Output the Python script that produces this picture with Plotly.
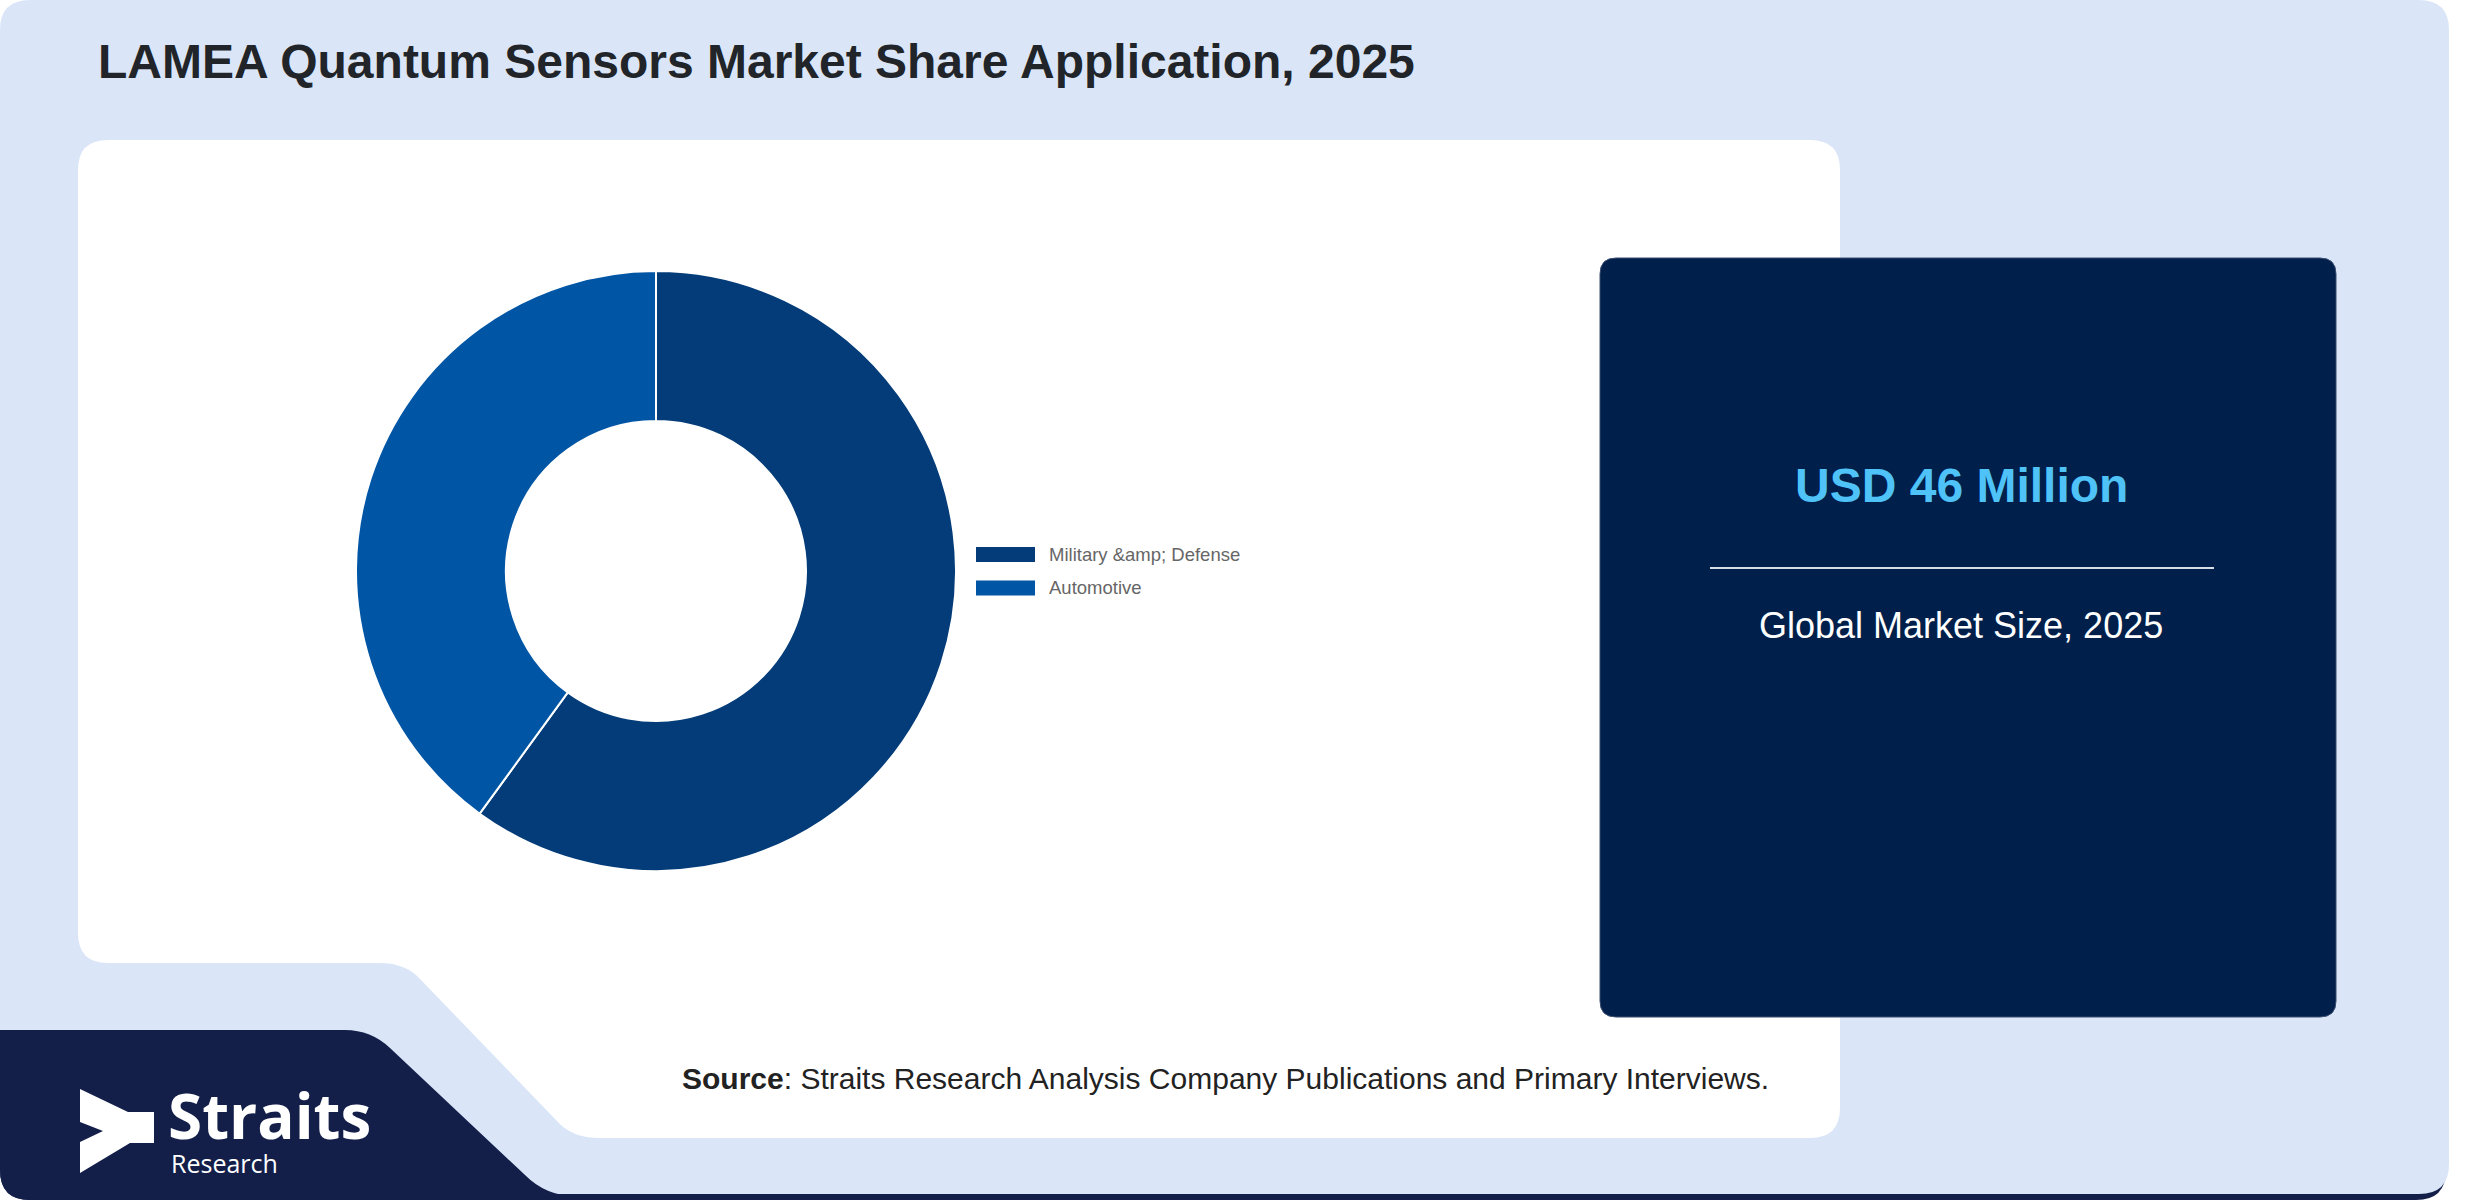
import plotly.graph_objects as go

# data
applications = ["Military &amp; Defense", "Automotive"]
shares = [60, 40]
slice_colors = ["#033c78", "#0155a5"]

title = "LAMEA Quantum Sensors Market Share Application, 2025"
market_size = "USD 46 Million"
market_label = "Global Market Size, 2025"
source_note = "<b>Source</b>: Straits Research Analysis Company Publications and Primary Interviews."

W, H = 2480, 1200
FONT = "Liberation Sans, Arial, sans-serif"


def rounded_rect(x0, y0, x1, y1, r):
    return (f"M {x0 + r},{y0} L {x1 - r},{y0} Q {x1},{y0} {x1},{y0 + r} "
            f"L {x1},{y1 - r} Q {x1},{y1} {x1 - r},{y1} L {x0 + r},{y1} "
            f"Q {x0},{y1} {x0},{y1 - r} L {x0},{y0 + r} Q {x0},{y0} {x0 + r},{y0} Z")


fig = go.Figure()

# dummy trace so the pixel-like cartesian axes exist for the shapes
fig.add_trace(go.Scatter(x=[0], y=[0], mode="markers", opacity=0,
                         hoverinfo="skip", showlegend=False))

fig.add_trace(go.Pie(
    labels=applications,
    values=shares,
    hole=0.5,
    sort=False,
    direction="clockwise",
    rotation=0,
    textinfo="none",
    hoverinfo="label+percent",
    marker=dict(colors=slice_colors, line=dict(color="white", width=2)),
    domain=dict(x=[356 / W, 956 / W], y=[(H - 871) / H, (H - 271) / H]),
    showlegend=False,
))

shapes = [
    # navy bottom edge under the light panel
    dict(type="path", path=rounded_rect(0, 20, 2446, 1200, 30),
         fillcolor="#131f49", line=dict(width=0), layer="below"),
    # light blue background panel
    dict(type="path", path=rounded_rect(0, 0, 2449, 1194, 30),
         fillcolor="#dae6f8", line=dict(width=0), layer="below"),
    # white chart panel with cut corner
    dict(type="path",
         path=("M 108,140 L 1810,140 Q 1840,140 1840,170 L 1840,1108 Q 1840,1138 1810,1138 "
               "L 600,1138 Q 571,1138 556,1120 L 421,980 Q 406,963 380,963 L 108,963 "
               "Q 78,963 78,933 L 78,170 Q 78,140 108,140 Z"),
         fillcolor="white", line=dict(width=0), layer="below"),
    # navy logo block
    dict(type="path",
         path=("M 0,1030 L 345,1030 Q 371,1030 390,1048 L 525,1175 Q 546,1196 575,1196 "
               "L 575,1200 L 30,1200 Q 0,1200 0,1170 Z"),
         fillcolor="#131f49", line=dict(width=0), layer="below"),
    # logo arrow
    dict(type="path",
         path=("M 80,1089 L 128,1112 L 154,1112 L 154,1143 L 130,1143 L 80,1173 "
               "L 80,1142 L 103,1131 L 80,1122 Z"),
         fillcolor="white", line=dict(width=0), layer="below"),
    # market size card
    dict(type="path", path=rounded_rect(1600, 258, 2336, 1017, 16),
         fillcolor="#001f4a", line=dict(color="#3a4d6e", width=1), layer="below"),
    dict(type="line", x0=1710, x1=2214, y0=568, y1=568,
         line=dict(color="rgba(255,255,255,0.85)", width=2), layer="above"),
]

# legend swatches
for i, c in enumerate(slice_colors):
    y0 = 547 + i * 33.5
    shapes.append(dict(type="rect", x0=976, x1=1035, y0=y0, y1=y0 + 15,
                       fillcolor=c, line=dict(width=0), layer="above"))

annotations = [
    dict(x=96, y=61, text=f"<b>{title}</b>", xanchor="left", yanchor="middle",
         font=dict(family=FONT, size=48, color="#212529")),
    dict(x=1961, y=485, text=f"<b>{market_size}</b>", xanchor="center", yanchor="middle",
         font=dict(family=FONT, size=48, color="#4fc3f7")),
    dict(x=1961, y=625, text=market_label, xanchor="center", yanchor="middle",
         font=dict(family=FONT, size=36, color="white")),
    dict(x=680, y=1078, text=source_note, xanchor="left", yanchor="middle",
         font=dict(family=FONT, size=30, color="#222222")),
    dict(x=166, y=1115, text="<b>Straits</b>", xanchor="left", yanchor="middle",
         font=dict(family="Open Sans, sans-serif", size=62, color="white")),
    dict(x=169, y=1163, text="Research", xanchor="left", yanchor="middle",
         font=dict(family="Open Sans, sans-serif", size=25, color="white")),
]
for i, name in enumerate(applications):
    annotations.append(dict(x=1047, y=554 + i * 33.5, text=name.replace("&", "&amp;"),
                            xanchor="left", yanchor="middle",
                            font=dict(family=FONT, size=18.5, color="#666666")))

for a in annotations:
    a.update(xref="x", yref="y", showarrow=False)

fig.update_layout(
    width=W, height=H,
    margin=dict(l=0, r=0, t=0, b=0),
    paper_bgcolor="white",
    plot_bgcolor="rgba(0,0,0,0)",
    showlegend=False,
    xaxis=dict(range=[0, W], visible=False, fixedrange=True, domain=[0, 1]),
    yaxis=dict(range=[H, 0], visible=False, fixedrange=True, domain=[0, 1]),
    shapes=shapes,
    annotations=annotations,
)

# drop the default page margin so the figure sits flush at the top-left
fig.write_html("out.html", config={"displayModeBar": False},
               post_script="document.body.style.margin='0px';")
